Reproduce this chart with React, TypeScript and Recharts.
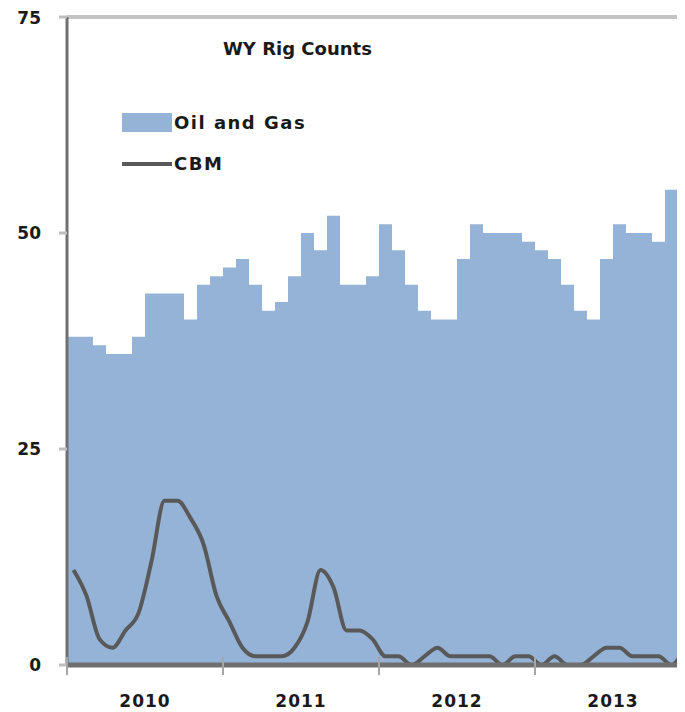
import { ComposedChart, Bar, Line, XAxis, YAxis, ReferenceLine } from 'recharts'

const years = ['2010', '2011', '2012', '2013']
const monthNames = ['Jan', 'Feb', 'Mar', 'Apr', 'May', 'Jun', 'Jul', 'Aug', 'Sep', 'Oct', 'Nov', 'Dec']
const months = years.flatMap(yr => monthNames.map(m => `${m} ${yr}`))

// monthly rig counts, Jan 2010 .. Dec 2013
const oilGas = [
  38, 38, 37, 36, 36, 38, 43, 43, 43, 40, 44, 45,
  46, 47, 44, 41, 42, 45, 50, 48, 52, 44, 44, 45,
  51, 48, 44, 41, 40, 40, 47, 51, 50, 50, 50, 49,
  48, 47, 44, 41, 40, 47, 51, 50, 50, 49, 55, 55,
]
const cbm = [
  11, 8, 3, 2, 4, 6, 12, 19, 19, 17, 14, 8,
  5, 2, 1, 1, 1, 2, 5, 11, 9, 4, 4, 3,
  1, 1, 0, 1, 2, 1, 1, 1, 1, 0, 1, 1,
  0, 1, 0, 0, 1, 2, 2, 1, 1, 1, 0, 2,
]
const yTicks = [0, 25, 50, 75]
const yearTicks = years.map(yr => `Jan ${yr}`)

const data = months.map((month, i) => ({ month, oilGas: oilGas[i], cbm: cbm[i] }))

const CHART_W = 683
const CHART_H = 704
const Y_AXIS_W = 59
const BAND = (CHART_W - Y_AXIS_W) / months.length

const FONT = '"DejaVu Sans", sans-serif'
const BLUE = '#95B3D7'
const LINE = '#595959'

function YearTick({ x, y, payload }: any) {
  const start = x - BAND / 2
  return (
    <g>
      <line x1={start} y1={y - 8} x2={start} y2={y + 10} stroke="#a6a6a6" strokeWidth={2} />
      <text
        x={start + BAND * 6}
        y={y + 42}
        textAnchor="middle"
        fontSize={17}
        fontWeight="bold"
        letterSpacing={1}
        fill="#1a1a1a"
        fontFamily={FONT}
      >
        {String(payload.value).slice(-4)}
      </text>
    </g>
  )
}

export default function App() {
  return (
    <div style={{ position: 'relative', width: 677, height: CHART_H, overflow: 'hidden', fontFamily: FONT }}>
      <ComposedChart
        width={CHART_W}
        height={CHART_H}
        data={data}
        barCategoryGap={0}
        margin={{ top: 9, right: 0, bottom: 0, left: 0 }}
      >
        <XAxis
          dataKey="month"
          ticks={yearTicks}
          interval={0}
          height={47}
          tickLine={false}
          tickSize={0}
          tickMargin={0}
          axisLine={{ stroke: '#6f6f6f', strokeWidth: 5 }}
          tick={<YearTick />}
        />
        <YAxis
          domain={[0, 75]}
          ticks={yTicks}
          width={Y_AXIS_W}
          tickSize={8}
          tickMargin={18}
          tickLine={{ stroke: '#bfbfbf', strokeWidth: 3 }}
          axisLine={{ stroke: '#707070', strokeWidth: 3 }}
          tick={{ fontSize: 17, fontWeight: 'bold', fill: '#1a1a1a', fontFamily: FONT }}
        />
        <ReferenceLine y={75} stroke="#c4c4c4" strokeWidth={4} />
        <Bar dataKey="oilGas" fill={BLUE} isAnimationActive={false} />
        <Line
          type="monotone"
          dataKey="cbm"
          stroke={LINE}
          strokeWidth={4}
          dot={false}
          isAnimationActive={false}
        />
      </ComposedChart>

      <div
        style={{
          position: 'absolute',
          left: 215,
          top: 30,
          fontSize: 18,
          fontWeight: 'bold',
          color: '#1a1a1a',
          whiteSpace: 'nowrap',
        }}
      >
        WY Rig Counts
      </div>

      <div style={{ position: 'absolute', left: 114, top: 105, fontSize: 18, fontWeight: 'bold', color: '#1a1a1a' }}>
        <div style={{ display: 'flex', alignItems: 'center', height: 19 }}>
          <span style={{ width: 50, height: 19, background: BLUE, display: 'inline-block' }} />
          <span style={{ marginLeft: 2, letterSpacing: 1.5 }}>Oil and Gas</span>
        </div>
        <div style={{ display: 'flex', alignItems: 'center', height: 19, marginTop: 22 }}>
          <span style={{ width: 50, height: 4, background: LINE, display: 'inline-block' }} />
          <span style={{ marginLeft: 2, letterSpacing: 1.5 }}>CBM</span>
        </div>
      </div>
    </div>
  )
}
